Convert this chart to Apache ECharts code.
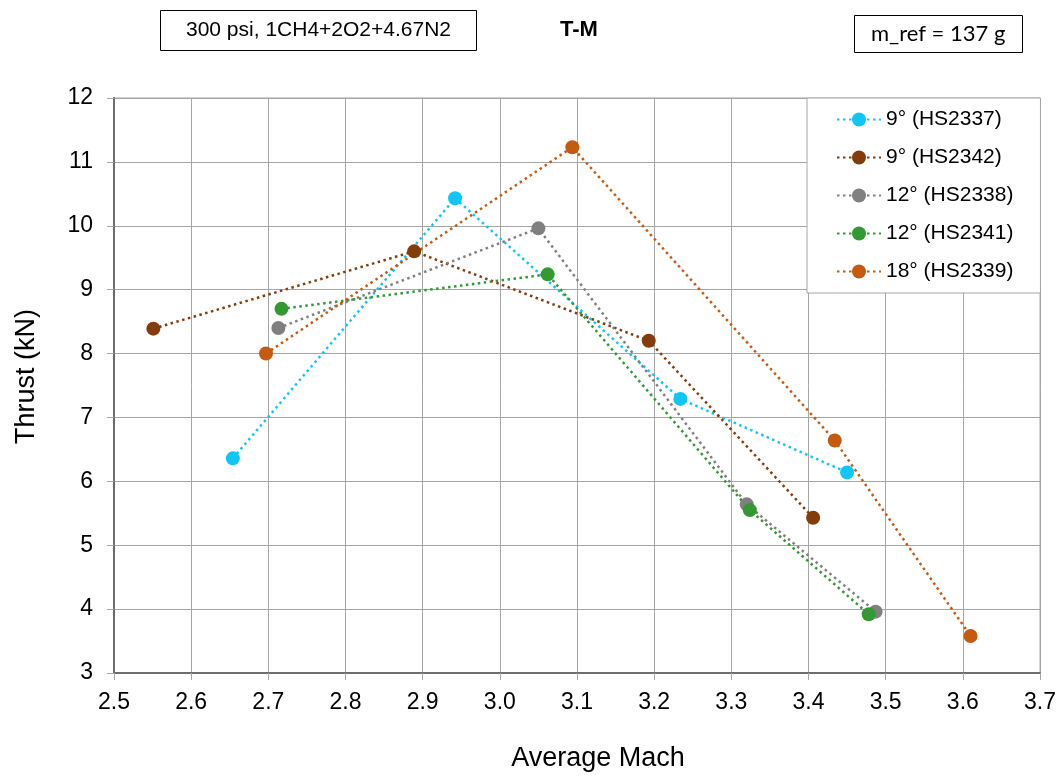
<!DOCTYPE html>
<html>
<head>
<meta charset="utf-8">
<script src="https://cdn.jsdelivr.net/npm/echarts@6/dist/echarts.min.js"></script>
<style>
  html, body { margin: 0; padding: 0; background: #fff; }
  #chart { width: 1063px; height: 777px; }
</style>
</head>
<body>
<div id="chart"></div>
<script>
// series names and colours
const names = ["9° (HS2337)", "9° (HS2342)", "12° (HS2338)", "12° (HS2341)", "18° (HS2339)"];
const colors = ["#11C5F5", "#843C0C", "#808080", "#339933", "#C55A11"];

// [average Mach, thrust kN]
const hs2337 = [[2.654, 6.36], [2.942, 10.43], [3.234, 7.29], [3.450, 6.14]];
const hs2342 = [[2.551, 8.39], [2.889, 9.60], [3.193, 8.20], [3.406, 5.43]];
const hs2338 = [[2.713, 8.40], [3.050, 9.96], [3.320, 5.64], [3.487, 3.96]];
const hs2341 = [[2.717, 8.70], [3.062, 9.24], [3.324, 5.55], [3.478, 3.92]];
const hs2339 = [[2.697, 8.00], [3.094, 11.23], [3.434, 6.64], [3.610, 3.58]];
const seriesData = [hs2337, hs2342, hs2338, hs2341, hs2339];

const chart = echarts.init(document.getElementById("chart"));
const font = "Liberation Sans, Arial, sans-serif";

const option = {
  animation: false,
  title: [
    {
      text: "T-M",
      left: 555, top: 14,
      textStyle: { fontFamily: font, fontSize: 22, fontWeight: "bold", color: "#000" }
    },
    {
      text: "300 psi, 1CH4+2O2+4.67N2",
      left: 160, top: 10,
      padding: [10, 26, 10, 26],
      borderWidth: 1, borderColor: "#000",
      textStyle: { fontFamily: font, fontSize: 21, fontWeight: "normal", color: "#000" }
    },
    {
      text: "m_ref = 137 g",
      left: 854, top: 15,
      padding: [8, 17, 8, 17],
      borderWidth: 1, borderColor: "#000",
      textStyle: { fontFamily: "Lato, sans-serif", fontSize: 22, fontWeight: "normal", color: "#000" }
    }
  ],
  legend: {
    orient: "vertical",
    left: 807, top: 98,
    padding: [11, 27, 11, 29],
    itemWidth: 44, itemHeight: 17.5, itemGap: 17,
    borderWidth: 1, borderColor: "#A6A6A6",
    backgroundColor: "#fff",
    textStyle: { fontFamily: font, fontSize: 21, color: "#000" },
    data: names
  },
  grid: {
    left: 114, right: 23, top: 98, bottom: 100,
    show: true, borderColor: "#A6A6A6", borderWidth: 1
  },
  xAxis: {
    type: "value",
    min: 2.5, max: 3.7, interval: 0.1,
    name: "Average Mach",
    nameLocation: "middle", nameGap: 72,
    nameTextStyle: { fontFamily: font, fontSize: 27, color: "#000", padding: [0, 0, 0, 42] },
    axisLine: { lineStyle: { color: "#6E6E6E", width: 2 } },
    axisTick: { show: true, length: 7, lineStyle: { color: "#A6A6A6" } },
    axisLabel: {
      fontFamily: font, fontSize: 23, color: "#000", margin: 18,
      formatter: v => v.toFixed(1)
    },
    splitLine: { lineStyle: { color: "#A6A6A6", width: 1 } }
  },
  yAxis: {
    type: "value",
    min: 3, max: 12, interval: 1,
    name: "Thrust (kN)",
    nameLocation: "middle", nameGap: 74,
    nameTextStyle: { fontFamily: font, fontSize: 27, color: "#000", padding: [0, 0, 0, 18] },
    axisLine: { show: true, lineStyle: { color: "#6E6E6E", width: 2 } },
    axisTick: { show: true, length: 7, lineStyle: { color: "#A6A6A6" } },
    axisLabel: { fontFamily: font, fontSize: 23, color: "#000", margin: 21 },
    splitLine: { lineStyle: { color: "#A6A6A6", width: 1 } }
  },
  series: names.map((n, i) => ({
    name: n,
    type: "line",
    data: seriesData[i],
    symbol: "circle",
    symbolSize: 14,
    color: colors[i],
    itemStyle: { color: colors[i] },
    lineStyle: { color: colors[i], width: 2.5, type: [2.5, 3.5] }
  }))
};

chart.setOption(option);
</script>
</body>
</html>
